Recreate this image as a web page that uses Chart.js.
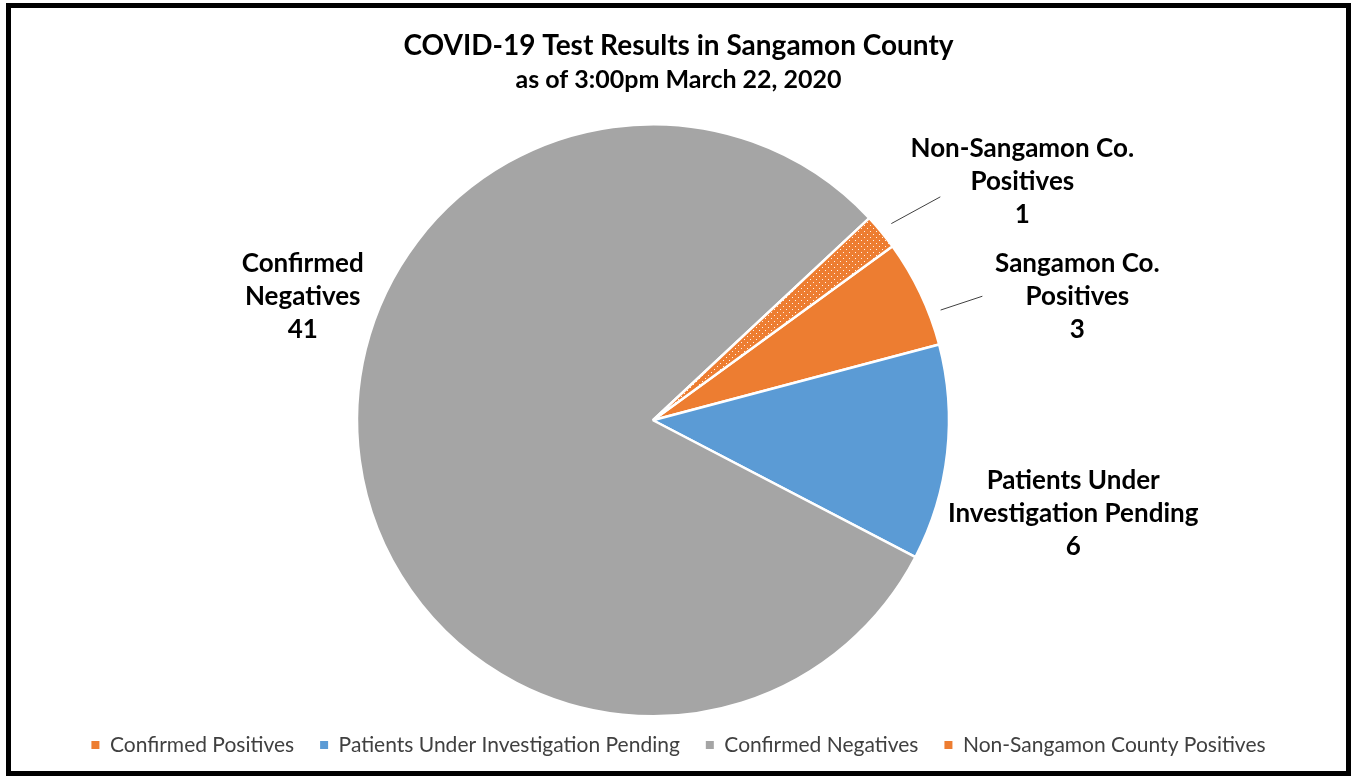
<!DOCTYPE html>
<html>
<head>
<meta charset="utf-8">
<script src="https://cdn.jsdelivr.net/npm/chart.js@4.4.1/dist/chart.umd.min.js"></script>
<style>
  body { margin: 0; background: #fff; }
  #frame {
    position: absolute; left: 6px; top: 3px;
    width: 1335px; height: 763px;
    border: 5px solid #000;
    background: #fff;
  }
  #frame canvas { display: block; }
</style>
</head>
<body>
<div id="frame"><canvas id="pieChart"></canvas></div>
<script>
// legend names, slice values and the text printed next to each slice
const labels = ['Confirmed Positives', 'Patients Under Investigation Pending', 'Confirmed Negatives', 'Non-Sangamon County Positives'];
const values = [3, 6, 41, 1];
const sliceLabels = [['Sangamon Co.', 'Positives'], ['Patients Under', 'Investigation Pending'], ['Confirmed', 'Negatives'], ['Non-Sangamon Co.', 'Positives']];
const colors = ['#ED7D31', '#5B9BD5', '#A5A5A5', '#ED7D31'];

// where each slice label sits, relative to the outer middle of its arc
const labelOffsets = [[157, 3], [126, 61], [-57, -164], [141, -50]];
// leader lines: [slice index, position inside arc (0..1), gap from arc, end offset from label]
const leaders = [[0, 0.71, 12, [-95, 0]], [3, 0.5, 13, [-82, 15]]];

// dotted orange fill for the Non-Sangamon slice
function dottedFill(color) {
    const c = document.createElement('canvas');
    c.width = 6; c.height = 6;
    const g = c.getContext('2d');
    g.fillStyle = color;
    g.fillRect(0, 0, 6, 6);
    g.fillStyle = 'rgba(255,255,255,0.9)';
    g.fillRect(1, 1, 1, 1);
    g.fillRect(4, 4, 1, 1);
    return g.createPattern(c, 'repeat');
}

const sliceLabelPlugin = {
    id: 'sliceLabels',
    afterDatasetsDraw(chart) {
        const ctx = chart.ctx;
        const arcs = chart.getDatasetMeta(0).data;
        ctx.save();
        ctx.fillStyle = '#000';
        ctx.font = 'bold 26px Lato';
        ctx.textAlign = 'center';
        ctx.textBaseline = 'middle';
        arcs.forEach((arc, i) => {
            const {x, y, startAngle, endAngle, outerRadius} = arc.getProps(['x', 'y', 'startAngle', 'endAngle', 'outerRadius'], true);
            const mid = (startAngle + endAngle) / 2;
            const ax = x + Math.cos(mid) * outerRadius + labelOffsets[i][0];
            const ay = y + Math.sin(mid) * outerRadius + labelOffsets[i][1];
            const lines = sliceLabels[i].concat(String(values[i]));
            lines.forEach((t, k) => {
                ctx.fillText(t, ax, ay + (k - (lines.length - 1) / 2) * 33);
            });
        });
        ctx.strokeStyle = '#404040';
        ctx.lineWidth = 1;
        leaders.forEach(([i, frac, gap, end]) => {
            const {x, y, startAngle, endAngle, outerRadius} = arcs[i].getProps(['x', 'y', 'startAngle', 'endAngle', 'outerRadius'], true);
            const a = startAngle + (endAngle - startAngle) * frac;
            const mid = (startAngle + endAngle) / 2;
            const ax = x + Math.cos(mid) * outerRadius + labelOffsets[i][0];
            const ay = y + Math.sin(mid) * outerRadius + labelOffsets[i][1];
            ctx.beginPath();
            ctx.moveTo(x + Math.cos(a) * (outerRadius + gap), y + Math.sin(a) * (outerRadius + gap));
            ctx.lineTo(ax + end[0], ay + end[1]);
            ctx.stroke();
        });
        ctx.restore();
    }
};

// pie is not centred in the frame: pull the plot area in from the right
const shiftPlot = {
    id: 'shiftPlot',
    afterLayout(chart) {
        chart.chartArea.right -= 51;
        chart.chartArea.width -= 51;
    }
};

const fills = colors.map((c, i) => i === 3 ? dottedFill(c) : c);

new Chart(document.getElementById('pieChart'), {
    type: 'pie',
    data: {
        labels: labels,
        datasets: [{
            data: values,
            backgroundColor: fills,
            borderColor: '#fff',
            borderWidth: 2.5,
            clip: false
        }]
    },
    options: {
        responsive: true,
        maintainAspectRatio: false,
        animation: false,
        rotation: 54,
        radius: 296,
        layout: { padding: { bottom: 5.5 } },
        plugins: {
            title: {
                display: true,
                text: 'COVID-19 Test Results in Sangamon County',
                color: '#000',
                font: { family: 'Lato', size: 28, weight: 'bold' },
                padding: { top: 21, bottom: 0 }
            },
            subtitle: {
                display: true,
                text: 'as of 3:00pm March 22, 2020',
                color: '#000',
                font: { family: 'Lato', size: 25, weight: 'bold' },
                padding: { top: 2.6, bottom: 36.8 }
            },
            legend: {
                position: 'bottom',
                labels: {
                    boxWidth: 8,
                    boxHeight: 8,
                    padding: 26,
                    color: '#404040',
                    font: { family: 'Lato', size: 21 },
                    generateLabels: () => labels.map((t, i) => ({
                        text: t,
                        fillStyle: colors[i],
                        strokeStyle: colors[i],
                        lineWidth: 0,
                        hidden: false,
                        index: i,
                        fontColor: '#404040'
                    }))
                }
            },
            tooltip: { enabled: false }
        }
    },
    plugins: [sliceLabelPlugin, shiftPlot]
});
</script>
</body>
</html>
